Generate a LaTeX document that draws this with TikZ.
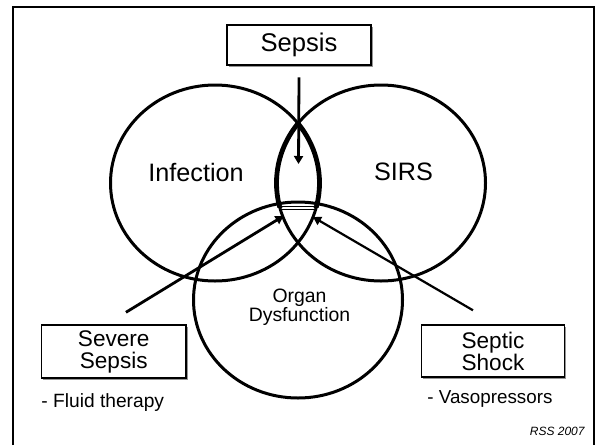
\documentclass[tikz,border=0pt]{standalone}
\usepackage{fontspec}
\setmainfont{Liberation Sans}
\usetikzlibrary{positioning,arrows.meta,shapes.geometric,shadows}
\definecolor{sepsline}{HTML}{000000}
\definecolor{sepsshade}{HTML}{7A7A7A}

\begin{document}
\begin{tikzpicture}[x=0.5pt,y=-0.5pt,
  ring/.style={draw=sepsline,ellipse,line width=1.5pt,minimum width=104.5pt,minimum height=98pt,inner sep=0pt},
  lbl/.style={font=\fontsize{12.6}{14}\selectfont,inner sep=0pt},
  box/.style={draw=sepsline,fill=white,line width=0.7pt,inner sep=0pt,align=center,
    drop shadow={shadow xshift=0.8pt,shadow yshift=-0.8pt,fill=sepsshade,opacity=0.8}},
  note/.style={font=\fontsize{9.6}{11}\selectfont,inner sep=0pt,anchor=west},
  arr/.style={-{Triangle[length=4pt,width=4.5pt]},line width=1.4pt,sepsline},
  lens/.style={line width=2.4pt,sepsline}
]
\useasboundingbox (0,0) rectangle (599,445);
\draw[line width=1.1pt] (13.3,445) -- (13.3,7.3) -- (594,7.3) -- (594,445);

% the three sets
\node[ring] (infect) at (215,183) {};
\node[ring] (sirs) at (381,183) {};
\node[ring] (organ) at (298,300) {};

\node[lbl] (infectlbl) at (196,172) {Infection};
\node[lbl] (sirslbl) at (403.5,172) {SIRS};
\node[font=\fontsize{9.7}{9.3}\selectfont,align=center,inner sep=0pt] (organlbl) at (299.5,307) {Organ\\Dysfunction};

% sepsis region, marked by hand
\begin{scope}
  \clip (sirs.center) ellipse [x radius=104.5,y radius=98];
  \clip (0,0) rectangle (599,207);
  \draw[lens] (infect.center) ellipse [x radius=104.5,y radius=98];
\end{scope}
\begin{scope}
  \clip (infect.center) ellipse [x radius=104.5,y radius=98];
  \clip (0,0) rectangle (599,207);
  \draw[lens] (sirs.center) ellipse [x radius=104.5,y radius=98];
\end{scope}
\draw[line width=0.6pt] (280,206.3) -- (316,206.3);
\draw[line width=0.6pt] (281,209.5) -- (315,209.5);

\node[box,minimum width=72pt,minimum height=20pt,font=\fontsize{12.8}{14}\selectfont] (sepsis) at (299,45) {Sepsis};
\node[box,minimum width=72.25pt,minimum height=26.5pt,font=\fontsize{11.3}{11}\selectfont] (severe) at (113.75,351.5) {Severe\\Sepsis};
\node[box,minimum width=71.3pt,minimum height=26pt,font=\fontsize{11.3}{11}\selectfont] (shock) at (493,351) {Septic\\Shock};

\node[note] (fluid) at (41,403) {- Fluid therapy};
\node[note,font=\fontsize{9.4}{11}\selectfont] (vaso) at (427,398.5) {- Vasopressors};
\node[font=\fontsize{6}{7}\selectfont\itshape,anchor=east,inner sep=0pt] (stamp) at (585,431) {RSS 2007};

% arrows into the overlap
\coordinate (sepsisTail) at ([yshift=-5.85pt]sepsis.south);
\coordinate (sepsisTip) at (298.5,164);
\coordinate (severeTail) at ([shift={(6.1pt,6pt)}]severe.north);
\coordinate (severeTip) at (283.5,216);
\coordinate (shockTail) at ([shift={(-10pt,7pt)}]shock.north);
\coordinate (shockTip) at (313,217);

\draw[arr] (sepsisTail) -- (sepsisTip);
\draw[arr] (severeTail) -- (severeTip);
\draw[arr,line width=1.1pt] (shockTail) -- (shockTip);
\end{tikzpicture}
\end{document}
